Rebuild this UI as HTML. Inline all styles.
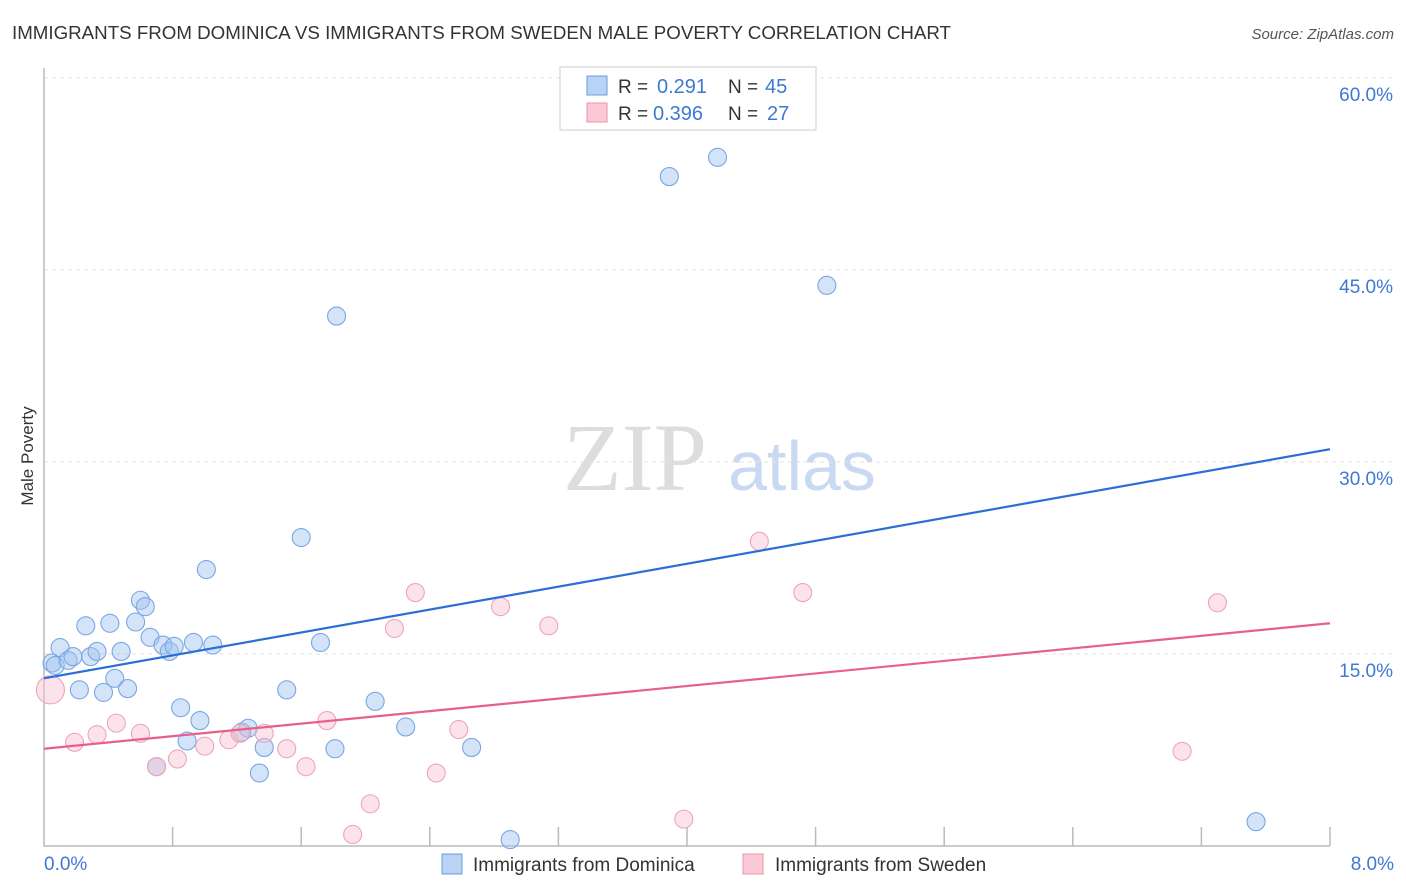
<!DOCTYPE html>
<html><head><meta charset="utf-8">
<style>
body{margin:0;background:#fff;font-family:"Liberation Sans",sans-serif;}
svg{display:block}
</style></head>
<body>
<svg id="chart" width="1406" height="892" xmlns="http://www.w3.org/2000/svg">
<text x="12" y="39" font-size="18" fill="#333" textLength="939" lengthAdjust="spacingAndGlyphs">IMMIGRANTS FROM DOMINICA VS IMMIGRANTS FROM SWEDEN MALE POVERTY CORRELATION CHART</text>
<text x="1394" y="39" font-size="15" fill="#555" font-style="italic" text-anchor="end">Source: ZipAtlas.com</text>
<text transform="translate(33,456) rotate(-90)" font-size="17" fill="#333" text-anchor="middle">Male Poverty</text>
<g>
<text x="635" y="490" font-size="96" fill="#ddd" font-family="Liberation Serif" text-anchor="middle">ZIP</text>
<text x="802" y="490" font-size="70" fill="#c9d9f1" text-anchor="middle">atlas</text>
</g>
<g id="grid"></g>
<g id="marks"></g>
<g>
<rect x="560" y="67" width="256" height="63" fill="#fff" stroke="#ccc"/>
<rect x="587" y="76" width="20" height="19" fill="#b9d3f5" stroke="#6a9de0"/>
<rect x="587" y="103" width="20" height="19" fill="#fbc8d6" stroke="#ec90ab"/>
<text x="618" y="93" font-size="19" fill="#333">R = </text><text x="657" y="93" font-size="20" fill="#3f78d4">0.291</text>
<text x="728" y="93" font-size="19" fill="#333">N = </text><text x="765" y="93" font-size="20" fill="#3f78d4">45</text>
<text x="618" y="120" font-size="19" fill="#333">R = </text><text x="653" y="120" font-size="20" fill="#3f78d4">0.396</text>
<text x="728" y="120" font-size="19" fill="#333">N = </text><text x="767" y="120" font-size="20" fill="#3f78d4">27</text>
</g>
<g>
<rect x="442" y="854" width="20" height="20" fill="#b9d3f5" stroke="#6a9de0"/>
<text x="473" y="871" font-size="19" fill="#333">Immigrants from Dominica</text>
<rect x="743" y="854" width="20" height="20" fill="#fbc8d6" stroke="#ec90ab"/>
<text x="775" y="871" font-size="19" fill="#333">Immigrants from Sweden</text>
</g>
</svg>
<script>
const yTicks=[15,30,45,60];
const yTickLabels=["15.0%","30.0%","45.0%","60.0%"];
const xTickValues=[0,0.8,1.6,2.4,3.2,4.0,4.8,5.6,6.4,7.2,8.0];
const xTickLabels=["0.0%","8.0%"];
const blueX=[0.05,0.07,0.10,0.15,0.18,0.22,0.26,0.29,0.33,0.37,0.41,0.44,0.48,0.52,0.57,0.60,0.63,0.66,0.74,0.78,0.81,0.85,0.89,0.93,0.97,1.01,1.05,1.23,1.27,1.34,1.37,1.51,1.60,1.72,1.81,1.82,2.06,2.25,2.66,2.90,3.89,4.19,4.87,7.54,0.70];
const blueY=[14.3,14.1,15.5,14.5,14.8,12.2,17.2,14.8,15.2,12.0,17.4,13.1,15.2,12.3,17.5,19.2,18.7,16.3,15.7,15.2,15.6,10.8,8.2,15.9,9.8,21.6,15.7,8.9,9.2,5.7,7.7,12.2,24.1,15.9,7.6,41.4,11.3,9.3,7.7,0.5,52.3,53.8,43.8,1.9,6.2];
const pinkX=[0.04,0.19,0.33,0.45,0.60,0.70,0.83,1.00,1.15,1.22,1.37,1.51,1.63,1.76,1.92,2.03,2.18,2.31,2.44,2.58,2.84,3.14,3.98,4.45,4.72,7.08,7.30];
const pinkY=[12.2,8.1,8.7,9.6,8.8,6.2,6.8,7.8,8.3,8.8,8.8,7.6,6.2,9.8,0.9,3.3,17.0,19.8,5.7,9.1,18.7,17.2,2.1,23.8,19.8,7.4,19.0];
const pinkR=[14,9,9,9,9,9,9,9,9,9,9,9,9,9,9,9,9,9,9,9,9,9,9,9,9,9,9];
const blueTrend=[13.1,31.0];
const pinkTrend=[7.6,17.4];
const NS="http://www.w3.org/2000/svg";
const xs=v=>44+v*160.75, ys=v=>846-v*12.8;
function mk(t,a,p){const e=document.createElementNS(NS,t);for(const k in a)e.setAttribute(k,a[k]);p.appendChild(e);return e;}
const g=document.getElementById('grid'),m=document.getElementById('marks');
yTicks.forEach((t,i)=>{
 const l=mk('line',{x1:44,x2:1394,y1:ys(t),y2:ys(t),stroke:'#e2e2e2','stroke-dasharray':'4,4'},g);
 
 
 const tx=mk('text',{x:1393,y:ys(t)+23,'font-size':19,fill:'#3f78d4','text-anchor':'end'},g);
 tx.textContent=yTickLabels[i];
 
 
});
const ax=mk('path',{d:`M44 68V846H1330`,stroke:'#bbb',fill:'none','stroke-width':1.5},g);


xTickValues.slice(1).forEach(v=>{
 const t=mk('line',{x1:xs(v),x2:xs(v),y1:827,y2:846,stroke:'#bbb','stroke-width':1.5},g);
 
 
});
[[0,'start',44],[8,'end',1394]].forEach((d,i)=>{
 const tx=mk('text',{x:d[2],y:870,'font-size':19,fill:'#3f78d4','text-anchor':d[1]},g);
 tx.textContent=xTickLabels[i];
 
 
});
blueX.forEach((x,i)=>{
 const c=mk('circle',{cx:xs(x),cy:ys(blueY[i]),r:9,fill:'rgba(160,196,240,0.45)',stroke:'#7aa6e2','stroke-width':1.1},m);
 
 
});
pinkX.forEach((x,i)=>{
 const c=mk('circle',{cx:xs(x),cy:ys(pinkY[i]),r:pinkR[i],fill:'rgba(248,190,208,0.45)',stroke:'#eea5ba','stroke-width':1.1},m);
 
 
});
const bl=mk('line',{x1:xs(0),y1:ys(blueTrend[0]),x2:xs(8),y2:ys(blueTrend[1]),stroke:'#2a6fd6','stroke-width':2.2},m);


const pl=mk('line',{x1:xs(0),y1:ys(pinkTrend[0]),x2:xs(8),y2:ys(pinkTrend[1]),stroke:'#e8608a','stroke-width':2.2},m);


</script>
</body></html>
